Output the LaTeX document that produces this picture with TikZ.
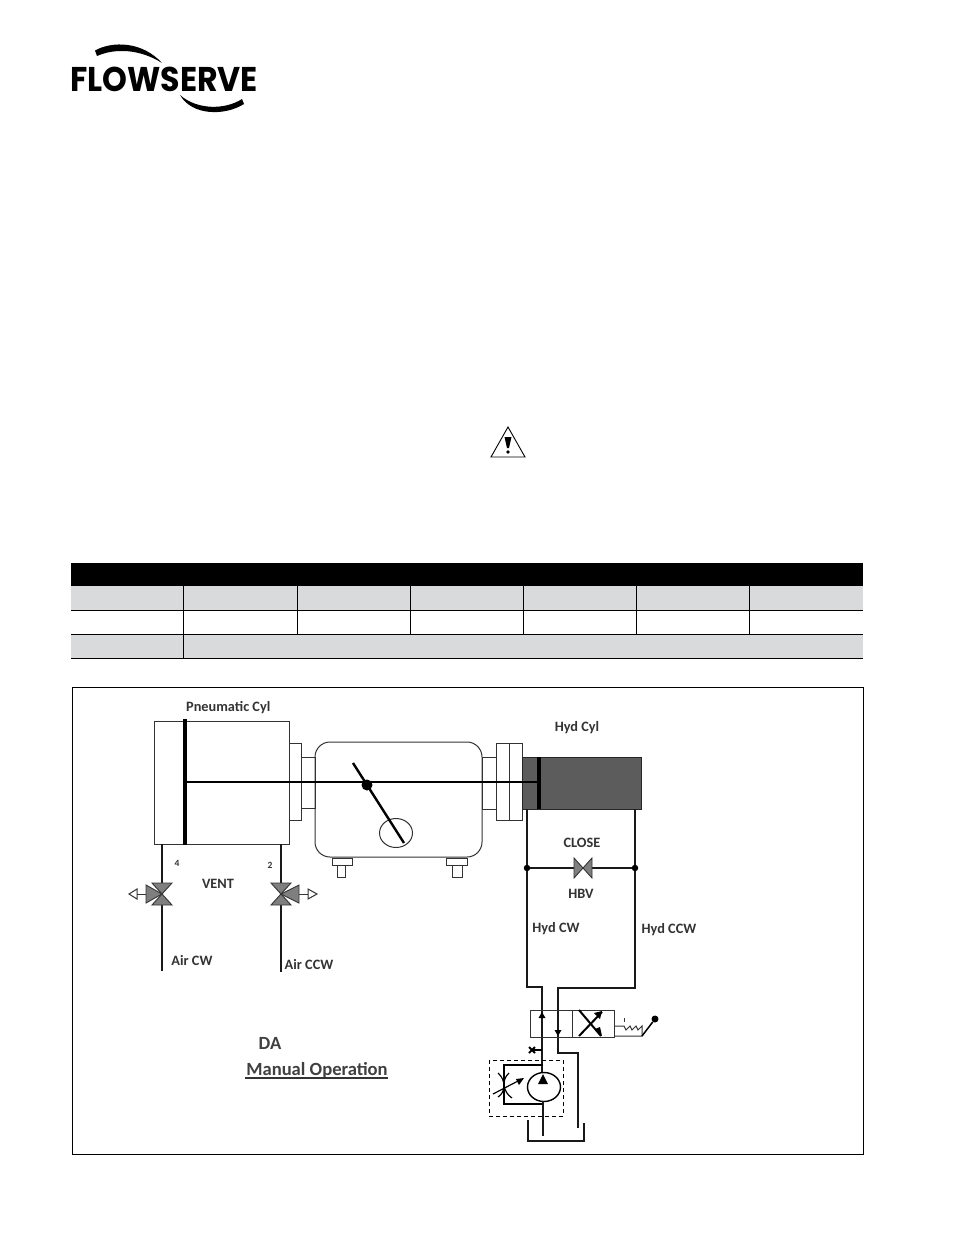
\documentclass[tikz,border=0pt]{standalone}
\usepackage{graphicx}
\usepackage{fontspec}
\setmainfont{Carlito}
\newfontfamily\logofont{Poppins}
\definecolor{tblgrey}{HTML}{D9DADC}
\definecolor{hydgrey}{HTML}{5C5C5C}
\definecolor{valvegrey}{HTML}{7F7F7F}
\tikzset{
 x=1pt,y=-1pt,
 thinline/.style={draw=black!80,line width=1pt},
 pipe/.style={draw=black!90,line width=2.3pt},
 rodline/.style={draw=black,line width=2.2pt},
 piston/.style={draw=black,line width=3.8pt},
 lab/.style={inner sep=0pt,yshift=-1pt,font=\fontsize{14.3}{16}\selectfont\bfseries,text=black!80},
 smalllab/.style={inner sep=0pt,font=\fontsize{9.5}{10}\selectfont\bfseries,text=black!80},
 biglab/.style={inner sep=0pt,font=\fontsize{18.6}{20}\selectfont\bfseries,text=black!75},
 tblrule/.style={draw=black,line width=1pt},
 vtri/.style={draw=black!80,fill=valvegrey,line width=.9pt,line join=miter},
 dotn/.style={circle,fill=black,inner sep=0pt,minimum size=6.5pt},
}
\begin{document}
\begin{tikzpicture}
\useasboundingbox[fill=white] (0,0) rectangle (954,1235);
% logo
\node[inner sep=0pt,anchor=center] (logo) at (164,79) {\scalebox{.958}[1.04]{\logofont\bfseries\fontsize{33}{33}\selectfont FLOWSERVE}};
\fill (95,50.5) .. controls (112,41) and (142,41) .. (162,63) .. controls (140,49) and (115,48) .. (97,56) -- cycle;
\fill (180,95) .. controls (197,110) and (225,110) .. (242,99) -- (244,104) .. controls (225,116) and (192,116) .. (180,95) -- cycle;
% warning triangle
\draw[line width=.9pt,line join=miter] (508,427) -- (525,457) -- (491,457) -- cycle;
\fill (504.5,437) -- (511.5,437) -- (509,448) -- (507,448) -- cycle;
\fill (508,452) circle (1.9);
% table
\fill[black] (71,563) rectangle (863,586);
\fill[tblgrey] (71,586) rectangle (863,610);
\fill[tblgrey] (71,634) rectangle (863,658);
\foreach \yy in {610,634,658} \draw[tblrule] (71,\yy) -- (863,\yy);
\foreach \xx in {183,297.6,410.6,523.6,636.6,749.6} \draw[tblrule] (\xx,586) -- (\xx,634);
\draw[tblrule] (183,634) -- (183,658);
% frame
\draw[line width=1pt] (72,687) rectangle (863,1154);
% pneumatic cylinder
\node[thinline,minimum width=135pt,minimum height=123pt,inner sep=0pt] (pcyl) at (221.5,782.5) {};
\draw[thinline] (289,743) rectangle (301,820);
\draw[thinline] (301,757) rectangle (315,808);
% gearbox
\node[thinline,rounded corners=15pt,minimum width=167pt,minimum height=115pt,inner sep=0pt] (gbox) at (398.5,799.5) {};
\draw[thinline] (482,757) rectangle (496,809);
\draw[thinline] (496,743) rectangle (509,820);
\draw[thinline] (509,743) rectangle (522,820);
% feet
\draw[thinline] (332,858) rectangle (352,865) (337,865) rectangle (345,877);
\draw[thinline] (446,858) rectangle (467,865) (452,865) rectangle (462,877);
% hyd cylinder
\node[draw=black!85,line width=1pt,fill=hydgrey,minimum width=119pt,minimum height=52pt,inner sep=0pt] (hcyl) at (581.5,783) {};
% pistons, rod, lever
\coordinate (ppist) at (185,782);
\coordinate (hpist) at (539,782);
\draw[piston] (185,719) -- (185,845);
\draw[piston] (539,757) -- (539,809);
\draw[rodline] (ppist) -- (hpist);
\draw[thinline] (396,833) ellipse (16.5 and 14.5);
\node[dotn,minimum size=11pt] (pivot) at (367,785) {};
\coordinate (levA) at (353,763);
\coordinate (levB) at (404,843);
\draw[line width=2.4pt] (levA) -- (levB);
% air lines
\coordinate (p4top) at (162,844); \coordinate (p4bot) at (162,971);
\coordinate (p2top) at (281,844); \coordinate (p2bot) at (281,972);
\draw[pipe] (p4top) -- (p4bot);
\draw[pipe] (p2top) -- (p2bot);
% left 3-way valve
\draw[thinline] (146,894) -- (137,894);
\draw[thinline,fill=white] (137,889) -- (137,899) -- (129,894) -- cycle;
\draw[vtri] (162,894) -- (152,883) -- (172,883) -- cycle;
\draw[vtri] (162,894) -- (152,905) -- (172,905) -- cycle;
\draw[vtri] (162,894) -- (146,885) -- (146,903) -- cycle;
% right 3-way valve
\draw[thinline] (299,894) -- (308,894);
\draw[thinline,fill=white] (308,889) -- (308,899) -- (317,894) -- cycle;
\draw[vtri] (281,894) -- (271,883) -- (291,883) -- cycle;
\draw[vtri] (281,894) -- (271,905) -- (291,905) -- cycle;
\draw[vtri] (281,894) -- (299,885) -- (299,903) -- cycle;
% hyd lines
\coordinate (hl) at (527,809); \coordinate (hr) at (635,809);
\draw[pipe] (hl) -- (527,987) -- (542,987) -- (542,1074);
\draw[pipe] (hr) -- (635,988) -- (558,988) -- (558,1053) -- (578,1053) -- (578,1128);
\node[dotn] (tl) at (527,868) {};
\node[dotn] (tr) at (635,868) {};
\draw[pipe] (tl) -- (tr);
\draw[vtri] (583,868) -- (574,858) -- (574,878) -- cycle;
\draw[vtri] (583,868) -- (592,858) -- (592,878) -- cycle;
% directional valve
\node[thinline,minimum width=84pt,minimum height=27pt,inner sep=0pt] (dv) at (572,1023.5) {};
\draw[thinline] (572,1010) -- (572,1037);
\draw[line width=2pt] (579,1010) -- (601,1036);
\draw[line width=2pt] (602,1012) -- (579,1036);
\fill (602,1011) -- (594,1013) -- (600,1019) -- cycle;
\fill (602,1036) -- (595,1029) -- (600,1027) -- cycle;
\fill (542,1012) -- (538.5,1018) -- (545.5,1018) -- cycle;
\fill (558,1036) -- (554.5,1030) -- (561.5,1030) -- cycle;
% actuator
\draw[thinline] (614,1036) -- (642,1036) -- (642,1026) -- (638,1030) -- (636,1026) -- (632,1030) -- (630,1026) -- (626,1030) -- (624,1026) -- (614,1026);
\draw[thinline] (624,1018) -- (624,1022);
\node[dotn,minimum size=7pt] (knob) at (655,1019) {};
\draw[line width=1.5pt] (642,1036) -- (knob);
% pilot cross
\draw[line width=1.8pt] (529,1047) -- (535,1053) (535,1047) -- (529,1053);
\draw[line width=1.8pt] (532,1050) -- (542,1050);
% pump circuit
\draw[line width=2pt] (543,1065) -- (504,1065) -- (504,1104) -- (543,1104);
\draw[draw=black,line width=1.4pt,fill=white] (544,1087) ellipse (16.5 and 14.5);
\fill (543,1074) -- (538,1084) -- (548,1084) -- cycle;
\draw[pipe] (543,1101) -- (543,1136);
\draw[line width=1.2pt] (498,1073) .. controls (506,1080) and (506,1092) .. (498,1097);
\draw[line width=1.2pt] (509,1073) .. controls (501,1080) and (503,1092) .. (512,1098);
\draw[line width=1.2pt] (493,1094) -- (518,1081);
\fill (524,1078) -- (516,1079) -- (519,1085) -- cycle;
\draw[line width=.9pt,dash pattern=on 4pt off 3pt] (489,1060) rectangle (563,1116);
% tank
\draw[pipe] (528,1120) -- (528,1141) -- (584,1141) -- (584,1123);
% labels
\node[lab,anchor=west] (lpc) at (186,707) {Pneumatic Cyl};
\node[lab] (lhc) at (577,727) {Hyd Cyl};
\node[smalllab] (l4) at (177,863) {4};
\node[smalllab] (l2) at (270,865) {2};
\node[lab] (lvent) at (218,883) {VENT};
\node[lab] (lacw) at (192,960) {Air CW};
\node[lab] (laccw) at (309,964) {Air CCW};
\node[lab] (lclose) at (582,842) {CLOSE};
\node[lab] (lhbv) at (581,893) {HBV};
\node[lab] (lhcw) at (556,928) {Hyd CW};
\node[lab] (lhccw) at (669,929) {Hyd CCW};
\node[biglab] (lda) at (270,1043) {DA};
\node[biglab] (lmo) at (317,1070) {Manual Operation};
\draw[line width=1.3pt,black!80] (245,1078) -- (388,1078);
\end{tikzpicture}
\end{document}
